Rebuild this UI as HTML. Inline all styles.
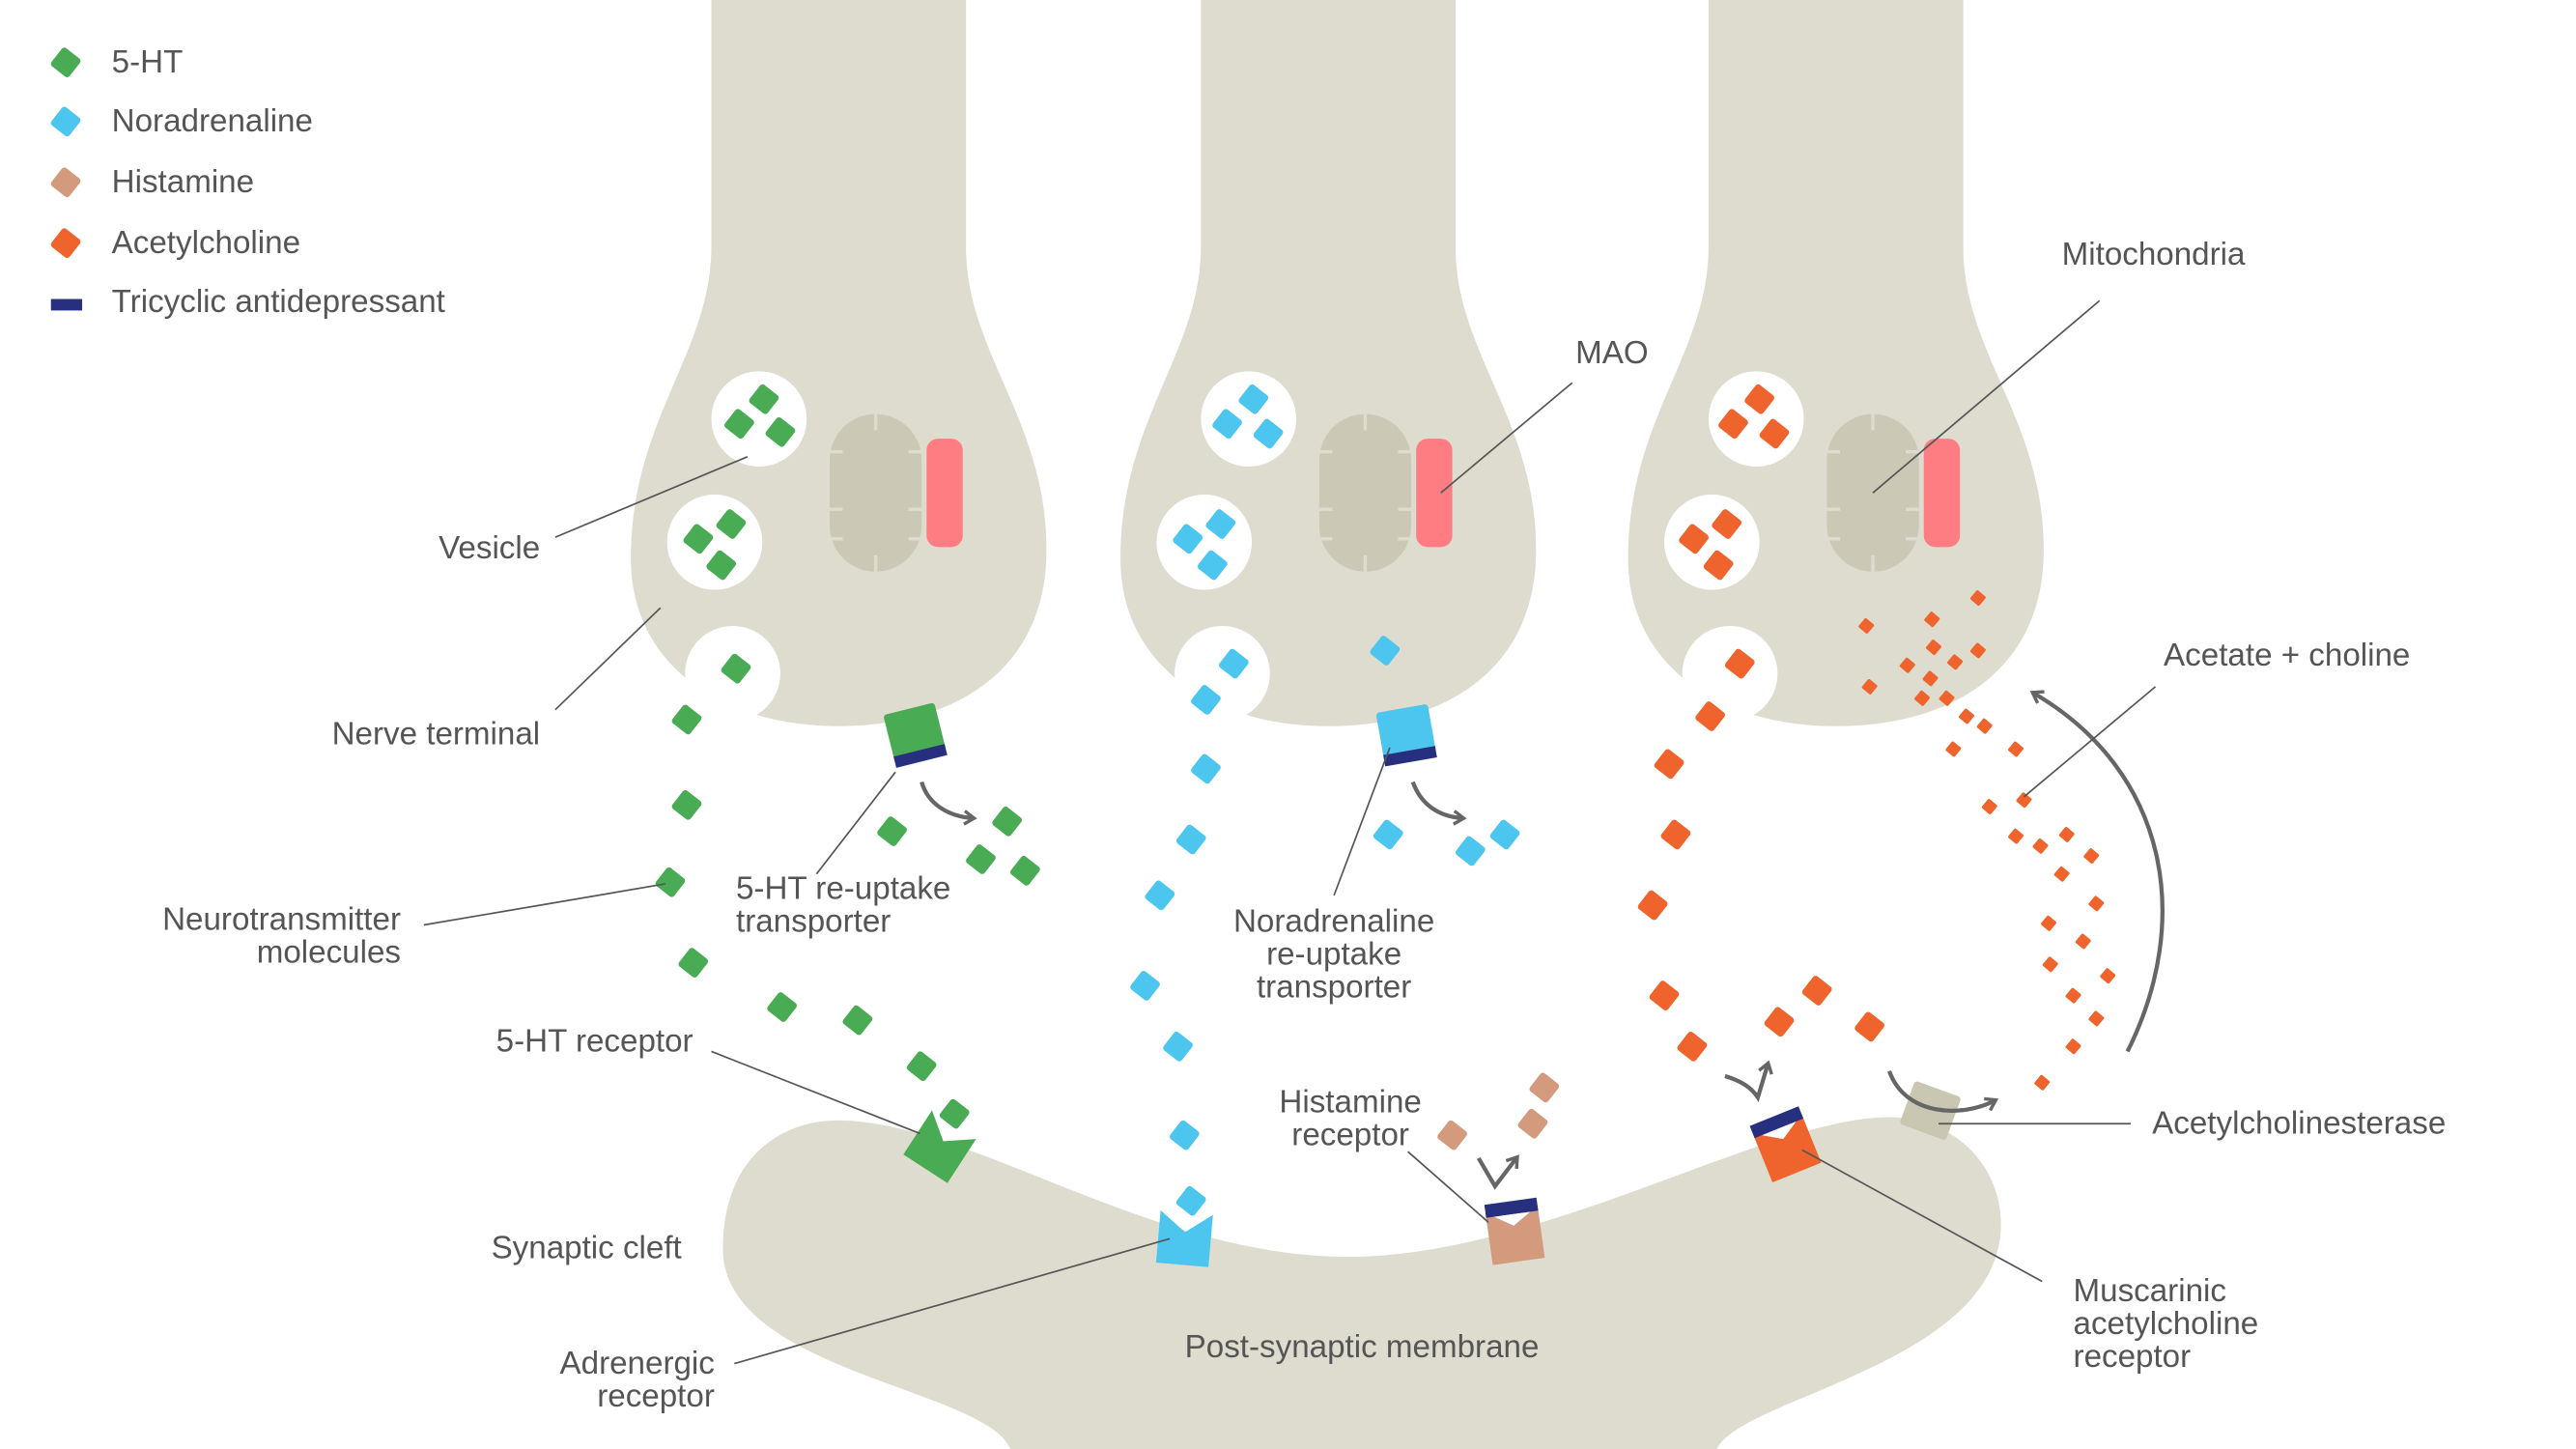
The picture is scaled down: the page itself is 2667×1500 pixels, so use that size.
<!DOCTYPE html>
<html><head><meta charset="utf-8"><style>
html,body{margin:0;padding:0;background:#fff;}
svg{display:block;}
text{font-family:"Liberation Sans",sans-serif;font-size:19.5px;fill:#555;}
</style></head><body>
<svg width="2667" height="1500" viewBox="0 0 1568 882" preserveAspectRatio="none" xmlns="http://www.w3.org/2000/svg">
<defs>
<rect id="d" x="-7" y="-7" width="14" height="14" rx="2" transform="rotate(38)"/>
<rect id="s" x="-3.6" y="-3.6" width="7.2" height="7.2" rx="1" transform="rotate(40)"/>
<g id="term">
<path d="M433,0 L588,0 L588,150 C588,215 637,255 637,335 C637,405 585,442 510,442 C440,442 384,405 384,340 C384,255 433,215 433,150 Z" fill="#dedccf"/>
<circle cx="462" cy="255" r="29" fill="#fff"/>
<circle cx="435" cy="330" r="29" fill="#fff"/>
<circle cx="446" cy="410" r="29" fill="#fff"/>
<rect x="505" y="252" width="56" height="96" rx="28" fill="#cbc8b5"/>
<g stroke="#dedccf" stroke-width="2">
<line x1="533" y1="252" x2="533" y2="262"/><line x1="533" y1="338" x2="533" y2="348"/>
<line x1="505" y1="275" x2="513" y2="275"/><line x1="505" y1="310" x2="513" y2="310"/><line x1="505" y1="328" x2="513" y2="328"/>
<line x1="553" y1="275" x2="561" y2="275"/><line x1="553" y1="310" x2="561" y2="310"/><line x1="553" y1="328" x2="561" y2="328"/>
</g>
<rect x="564" y="267" width="22" height="66" rx="7" fill="#fd7d82"/>
</g>
<marker id="ah" viewBox="0 0 10 10" refX="6" refY="5" markerWidth="4" markerHeight="4" orient="auto"><path d="M1,1 L7,5 L1,9" fill="none" stroke="#666" stroke-width="2"/></marker>
</defs>

<path d="M615,882 C600,845 440,835 440,760 C440,705 475,682 510,682 C590,682 700,765 820,765 C940,765 1075,680 1150,680 C1190,680 1218,710 1218,745 C1218,830 1060,850 1045,882 Z" fill="#dedccf"/>

<use href="#term"/>
<use href="#term" x="298"/>
<use href="#term" x="607"/>

<use href="#d" x="40" y="38" fill="#4aab55"/>
<use href="#d" x="40" y="74" fill="#4cc6ef"/>
<use href="#d" x="40" y="111" fill="#d49a7e"/>
<use href="#d" x="40" y="148" fill="#ee642c"/>
<rect x="31" y="182" width="19" height="7" fill="#27307f"/>
<text x="68" y="44">5-HT</text>
<text x="68" y="80">Noradrenaline</text>
<text x="68" y="117">Histamine</text>
<text x="68" y="154">Acetylcholine</text>
<text x="68" y="190">Tricyclic antidepressant</text>

<g fill="#4aab55">
<use href="#d" x="465" y="243"/><use href="#d" x="450" y="258"/><use href="#d" x="475" y="263"/>
<use href="#d" x="445" y="319"/><use href="#d" x="425" y="328"/><use href="#d" x="439" y="344"/>
<use href="#d" x="448" y="407"/><use href="#d" x="418" y="438"/><use href="#d" x="418" y="490"/>
<use href="#d" x="408" y="537"/><use href="#d" x="422" y="586"/><use href="#d" x="476" y="613"/>
<use href="#d" x="522" y="621"/><use href="#d" x="561" y="649"/><use href="#d" x="581" y="678"/>
<use href="#d" x="543" y="506"/><use href="#d" x="613" y="500"/><use href="#d" x="597" y="523"/><use href="#d" x="624" y="530"/>
<g transform="translate(557,447) rotate(-14)"><rect x="-16" y="-16" width="32" height="30" rx="2"/><rect x="-16" y="10" width="32" height="7" fill="#27307f"/></g>
<path transform="translate(572,698) rotate(33)" d="M-16,-16 L0,-4 L16,-16 L16,16 L-16,16 Z"/>
</g>

<g fill="#4cc6ef">
<use href="#d" x="763" y="243"/><use href="#d" x="747" y="258"/><use href="#d" x="772" y="264"/>
<use href="#d" x="743" y="319"/><use href="#d" x="723" y="328"/><use href="#d" x="738" y="344"/>
<use href="#d" x="751" y="404"/><use href="#d" x="734" y="426"/><use href="#d" x="734" y="468"/>
<use href="#d" x="725" y="511"/><use href="#d" x="706" y="545"/><use href="#d" x="697" y="600"/>
<use href="#d" x="717" y="637"/><use href="#d" x="721" y="691"/><use href="#d" x="725" y="731"/>
<use href="#d" x="843" y="396"/><use href="#d" x="845" y="508"/><use href="#d" x="895" y="518"/><use href="#d" x="916" y="508"/>
<g transform="translate(856,447) rotate(-10)"><rect x="-16" y="-16" width="32" height="30" rx="2"/><rect x="-16" y="10" width="32" height="7" fill="#27307f"/></g>
<path transform="translate(721,754) rotate(5)" d="M-16,-16 L0,-4 L16,-16 L16,16 L-16,16 Z"/>
</g>

<g fill="#d49a7e">
<use href="#d" x="940" y="662"/><use href="#d" x="884" y="691"/><use href="#d" x="933" y="684"/>
<g transform="translate(922,750) rotate(-8)"><path d="M-16,-14 L0,-4 L16,-14 L16,18 L-16,18 Z"/><rect x="-16" y="-19" width="32" height="8" fill="#27307f"/><path d="M-6,-11 L6,-11 L0,-4 Z" fill="#fff"/></g>
</g>

<g fill="#ee642c">
<use href="#d" x="1071" y="243"/><use href="#d" x="1055" y="258"/><use href="#d" x="1080" y="264"/>
<use href="#d" x="1051" y="319"/><use href="#d" x="1031" y="328"/><use href="#d" x="1046" y="344"/>
<use href="#d" x="1059" y="404"/><use href="#d" x="1041" y="436"/><use href="#d" x="1016" y="465"/>
<use href="#d" x="1020" y="508"/><use href="#d" x="1006" y="551"/><use href="#d" x="1013" y="606"/>
<use href="#d" x="1030" y="637"/><use href="#d" x="1083" y="622"/><use href="#d" x="1106" y="603"/><use href="#d" x="1138" y="625"/>
<g transform="translate(1087,697) rotate(-22)"><path d="M-16,-14 L0,-4 L16,-14 L16,18 L-16,18 Z"/><rect x="-16" y="-19" width="32" height="8" fill="#27307f"/><path d="M-6,-11 L6,-11 L0,-4 Z" fill="#fff"/></g>
<use href="#s" x="1136" y="381"/><use href="#s" x="1176" y="377"/><use href="#s" x="1204" y="364"/><use href="#s" x="1177" y="394"/>
<use href="#s" x="1161" y="405"/><use href="#s" x="1190" y="403"/><use href="#s" x="1204" y="396"/><use href="#s" x="1138" y="418"/>
<use href="#s" x="1175" y="413"/><use href="#s" x="1185" y="425"/><use href="#s" x="1170" y="425"/><use href="#s" x="1197" y="436"/>
<use href="#s" x="1208" y="442"/><use href="#s" x="1189" y="456"/><use href="#s" x="1227" y="456"/><use href="#s" x="1211" y="491"/>
<use href="#s" x="1232" y="487"/><use href="#s" x="1227" y="509"/><use href="#s" x="1242" y="515"/><use href="#s" x="1258" y="508"/>
<use href="#s" x="1273" y="521"/><use href="#s" x="1255" y="532"/><use href="#s" x="1276" y="550"/><use href="#s" x="1247" y="562"/>
<use href="#s" x="1268" y="573"/><use href="#s" x="1248" y="587"/><use href="#s" x="1283" y="594"/><use href="#s" x="1262" y="606"/>
<use href="#s" x="1276" y="620"/><use href="#s" x="1262" y="637"/><use href="#s" x="1243" y="659"/>
</g>
<rect x="1160" y="662" width="30" height="28" rx="2" fill="#c9c7b2" transform="rotate(20 1175 676)"/>

<g fill="none" stroke="#666" stroke-width="2.5" marker-end="url(#ah)">
<path d="M1295,640 C1335,560 1320,470 1238,422"/>
<path d="M1150,652 C1160,680 1195,680 1214,670"/>
<path d="M1050,655 C1060,658 1066,662 1070,668 L1076,648"/>
<path d="M900,705 L910,722 L923,705"/>
<path d="M561,476 C565,490 578,497 592,498"/>
<path d="M860,476 C865,490 876,497 890,498"/>
</g>

<g stroke="#555" stroke-width="1" fill="none">
<line x1="338" y1="327" x2="455" y2="278"/>
<line x1="338" y1="432" x2="402" y2="370"/>
<line x1="258" y1="563" x2="405" y2="538"/>
<line x1="497" y1="532" x2="545" y2="470"/>
<line x1="433" y1="640" x2="560" y2="690"/>
<line x1="447" y1="830" x2="712" y2="754"/>
<line x1="812" y1="545" x2="846" y2="455"/>
<line x1="857" y1="701" x2="906" y2="744"/>
<line x1="957" y1="233" x2="877" y2="300"/>
<line x1="1278" y1="183" x2="1140" y2="300"/>
<line x1="1312" y1="418" x2="1232" y2="485"/>
<line x1="1297" y1="684" x2="1180" y2="684"/>
<line x1="1243" y1="780" x2="1097" y2="700"/>
</g>

<text x="267" y="340">Vesicle</text>
<text x="202" y="453">Nerve terminal</text>
<text x="244" y="566" text-anchor="end">Neurotransmitter</text>
<text x="244" y="586" text-anchor="end">molecules</text>
<text x="448" y="547">5-HT re-uptake</text>
<text x="448" y="567">transporter</text>
<text x="302" y="640">5-HT receptor</text>
<text x="299" y="766">Synaptic cleft</text>
<text x="435" y="836" text-anchor="end">Adrenergic</text>
<text x="435" y="856" text-anchor="end">receptor</text>
<text x="812" y="567" text-anchor="middle">Noradrenaline</text>
<text x="812" y="587" text-anchor="middle">re-uptake</text>
<text x="812" y="607" text-anchor="middle">transporter</text>
<text x="822" y="677" text-anchor="middle">Histamine</text>
<text x="822" y="697" text-anchor="middle">receptor</text>
<text x="829" y="826" text-anchor="middle">Post-synaptic membrane</text>
<text x="959" y="221">MAO</text>
<text x="1255" y="161">Mitochondria</text>
<text x="1317" y="405">Acetate + choline</text>
<text x="1310" y="690">Acetylcholinesterase</text>
<text x="1262" y="792">Muscarinic</text>
<text x="1262" y="812">acetylcholine</text>
<text x="1262" y="832">receptor</text>
</svg>
</body></html>
